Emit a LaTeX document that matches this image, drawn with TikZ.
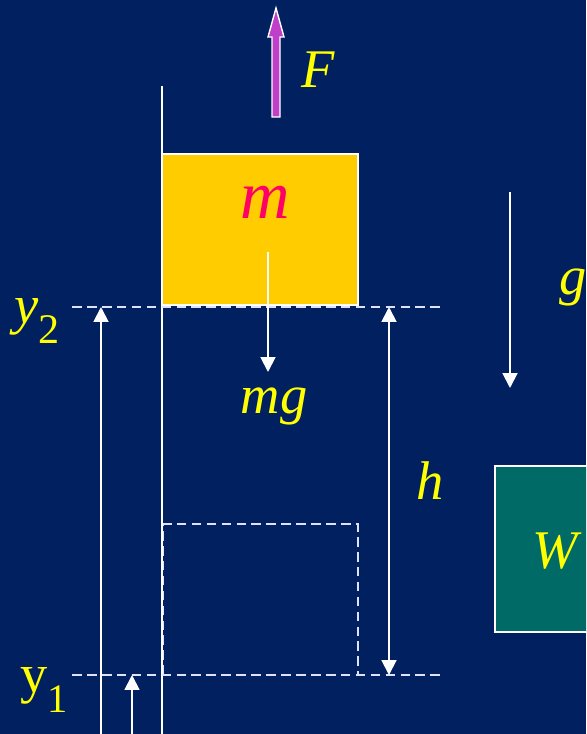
\documentclass[tikz,border=0pt]{standalone}
\usepackage{fontspec}
\setmainfont{Liberation Serif}
\usetikzlibrary{arrows.meta}
\definecolor{navy}{HTML}{002060}
\definecolor{lblyellow}{HTML}{FFFF00}
\definecolor{boxyellow}{HTML}{FFCC00}
\definecolor{massred}{HTML}{FF0066}
\definecolor{wteal}{HTML}{006A66}
\definecolor{fpurple}{HTML}{BF3FC8}
\tikzset{
  wire/.style={white, line width=1.1pt},
  vec/.style={white, line width=1.1pt, ->},
  guide/.style={white!88!blue, line width=1pt, dash pattern=on 5.5pt off 3pt},
  lbl/.style={text=lblyellow, font=\fontsize{31}{36}\selectfont\itshape, inner sep=0pt}
}

\begin{document}
\begin{tikzpicture}[x=0.02cm,y=-0.02cm,>={Triangle[width=8.5pt,length=8.5pt]}]
% Background
\fill[navy] (0,0) rectangle (586,734);
\clip (0,0) rectangle (586,734);

% Wall
\draw[wire] (162,86) -- (162,734);

% Mass m at height y2
\draw[white, line width=1pt, fill=boxyellow] (162,154) rectangle (358,305);

% Old position (dashed)
\draw[guide] (163.5,675) -- (163.5,524) -- (358,524) -- (358,675);

% Level lines
\draw[guide] (72,307) -- (443,307);
\draw[guide] (72,675) -- (443,675);

% Weight W
\draw[white, line width=1pt, fill=wteal] (495,466) rectangle (600,632);

% Force F
\filldraw[fill=fpurple, draw=white, line width=0.8pt] (272,117) -- (272,37) -- (268,37) -- (276,8) -- (284,37) -- (280,37) -- (280,117) -- cycle;

% Arrows
\coordinate (mgtail) at (268,252);
\coordinate (mghead) at (268,372);
\coordinate (ytwobase) at (101,734);
\coordinate (ytwolevel) at (101,307);
\coordinate (yonebase) at (132,734);
\coordinate (yonelevel) at (132,675);
\coordinate (htop) at (389,307);
\coordinate (hbot) at (389,675);
\coordinate (gtail) at (510,192);
\coordinate (ghead) at (510,388);
\draw[vec] (mgtail) -- (mghead);
\draw[vec] (ytwobase) -- (ytwolevel);
\draw[vec] (yonebase) -- (yonelevel);
\draw[vec, <->] (htop) -- (hbot);
\draw[vec] (gtail) -- (ghead);

% Labels
\node[lbl] (flabel) at (318,70) {F};
\node[lbl, text=massred, font=\fontsize{39}{44}\selectfont\itshape] (mlabel) at (265,202) {m};
\node[lbl] (mglabel) at (274,406) {mg};
\node[lbl] (hlabel) at (430,481) {h};
\node[lbl] (wlabel) at (555,551) {W};
\node[lbl] (glabel) at (573,287) {g};
\node[lbl] (ytwolabel) at (37,321) {y\raisebox{-0.37em}{\fontsize{24}{28}\selectfont\upshape 2}};
\node[lbl, font=\fontsize{31}{36}\selectfont] (yonelabel) at (44,690) {y\raisebox{-0.37em}{\fontsize{23}{28}\selectfont 1}};
\end{tikzpicture}
\end{document}
